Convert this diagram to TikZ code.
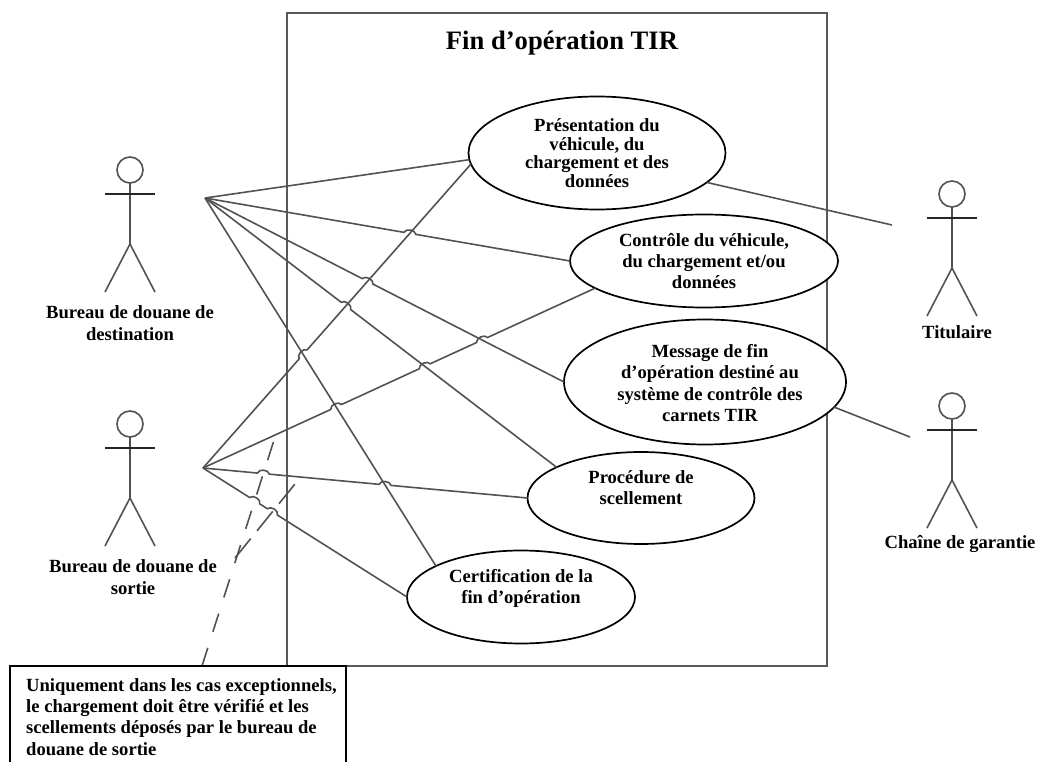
\documentclass[tikz,border=0pt]{standalone}
\usepackage{fontspec}
\setmainfont{Liberation Serif}
\usetikzlibrary{shapes.geometric,calc}

\tikzset{
  txt/.style={font=\bfseries\fontsize{18.6}{21.3}\selectfont, align=center, inner sep=0pt},
  usecase/.style={txt, draw=black, fill=white, line width=1.7pt, ellipse, outer sep=0pt},
  link/.style={draw=black!68, line width=1.6pt},
  dashlink/.style={draw=black!68, line width=1.6pt, dash pattern=on 19pt off 17pt},
  stickman/.pic={
    \draw[link] (0,0) circle (13);
    \draw[link] (0,13) -- (0,74) -- (-25,122);
    \draw[link] (0,74) -- (25,122);
    \draw[link, draw=black!85] (-25,24) -- (25,24);
  }
}

% jump of a line a--b over the crossing x
\newcommand{\hop}[3]{-- ($(#2)!6pt!(#1)$) to[bend left=75] ($(#2)!6pt!(#3)$)}

\begin{document}
\begin{tikzpicture}[x=1pt,y=-1pt]

    \useasboundingbox (0,0) rectangle (1037,762);

    % --- System frame ---
    \draw[draw=black!65, line width=2.6pt] (287,13) rectangle (827,666);
    \node[txt, font=\bfseries\fontsize{26.6}{30}\selectfont] (title) at (562,43) {Fin d’opération TIR};

    % --- Actors ---
    \pic at (130,170) {stickman};
    \pic at (130,424) {stickman};
    \pic at (952,194) {stickman};
    \pic at (952,406) {stickman};

    \node[txt] (destlabel) at (130,323) {Bureau de douane de\\destination};
    \node[txt] (sortlabel) at (133,577) {Bureau de douane de\\sortie};
    \node[txt] (titlabel) at (957,332) {Titulaire};
    \node[txt] (garlabel) at (960,544) {Chaîne de garantie};

    % --- Line ends ---
    \coordinate (dest) at (205,198);
    \coordinate (sort) at (203,468);
    \coordinate (tit) at (892,225);
    \coordinate (gar) at (910,437);
    \coordinate (notetip) at (202,666);
    \coordinate (dashA) at (275,437);
    \coordinate (dashB) at (235,558);
    \coordinate (dashC) at (299,479);

    % --- Use cases ---
    \node[usecase, font=\bfseries\fontsize{18.6}{18.7}\selectfont, minimum width=257pt, minimum height=113pt] (pres) at (597,153)
        {Présentation du\\véhicule, du\\chargement et des\\données};
    \node[usecase, minimum width=268pt, minimum height=93pt] (ctrl) at (704,261)
        {Contrôle du véhicule,\\du chargement et/ou\\données};
    \node[usecase, minimum width=282pt, minimum height=125pt] (msg) at (705,382) {};
    \node[txt] (msgtext) at (710,383)
        {Message de fin\\d’opération destiné au\\système de contrôle des\\carnets TIR};
    \node[usecase, minimum width=227pt, minimum height=92pt] (proc) at (641,498)
        {Procédure de\\scellement\\~};
    \node[usecase, minimum width=228pt, minimum height=93pt] (cert) at (521,597)
        {Certification de la\\fin d’opération\\~};

    % --- Crossings ---
    \coordinate (x1) at (intersection cs:first line={(dest)--(ctrl.west)},second line={(sort)--(pres.185)});
    \coordinate (x2) at (intersection cs:first line={(dest)--(msg.west)},second line={(sort)--(pres.185)});
    \coordinate (x3) at (intersection cs:first line={(dest)--(proc.160)},second line={(sort)--(pres.185)});
    \coordinate (x4) at (intersection cs:first line={(dest)--(cert.160)},second line={(sort)--(pres.185)});
    \coordinate (x5) at (intersection cs:first line={(dest)--(cert.160)},second line={(sort)--(ctrl.194)});
    \coordinate (x6) at (intersection cs:first line={(dest)--(proc.160)},second line={(sort)--(ctrl.194)});
    \coordinate (x7) at (intersection cs:first line={(dest)--(msg.west)},second line={(sort)--(ctrl.194)});
    \coordinate (x8) at (intersection cs:first line={(dest)--(cert.160)},second line={(sort)--(proc.west)});
    \coordinate (x9) at (intersection cs:first line={(notetip)--(dashA)},second line={(sort)--(proc.west)});
    \coordinate (x10) at (intersection cs:first line={(notetip)--(dashA)},second line={(sort)--(cert.west)});
    \coordinate (x11) at (intersection cs:first line={(dashB)--(dashC)},second line={(sort)--(cert.west)});

    % --- Lines from the destination office ---
    \draw[link] (dest) -- (pres.183);
    \draw[link] (dest) \hop{dest}{x1}{ctrl.west} -- (ctrl.west);
    \draw[link] (dest) \hop{dest}{x2}{msg.west} -- (msg.west);
    \draw[link] (dest) \hop{dest}{x3}{proc.160} -- (proc.160);
    \draw[link] (dest) -- (cert.160);

    % --- Lines from the exit office ---
    \draw[link] (sort) \hop{sort}{x4}{pres.185} -- (pres.185);
    \draw[link] (sort) \hop{sort}{x5}{x6} \hop{sort}{x6}{x7} \hop{sort}{x7}{ctrl.194} -- (ctrl.194);
    \draw[link] (sort) \hop{sort}{x9}{x8} \hop{sort}{x8}{proc.west} -- (proc.west);
    \draw[link] (sort) \hop{sort}{x10}{x11} \hop{sort}{x11}{cert.west} -- (cert.west);

    % --- Holder and guarantee chain ---
    \draw[link] (pres.-15) -- (tit);
    \draw[link] (msg.-11) -- (gar);

    % --- Note ---
    \draw[dashlink] (notetip) -- (dashA);
    \draw[dashlink, dash pattern=on 25pt off 10pt] (dashB) -- (dashC);
    \draw[draw=black, fill=white, line width=1.2pt] (10,770) |- (346,666) -- (346,770);
    \node[txt, align=left, anchor=north west] (note) at (26,678)
        {Uniquement dans les cas exceptionnels,\\le chargement doit être vérifié et les\\scellements déposés par le bureau de\\douane de sortie};

\end{tikzpicture}
\end{document}
